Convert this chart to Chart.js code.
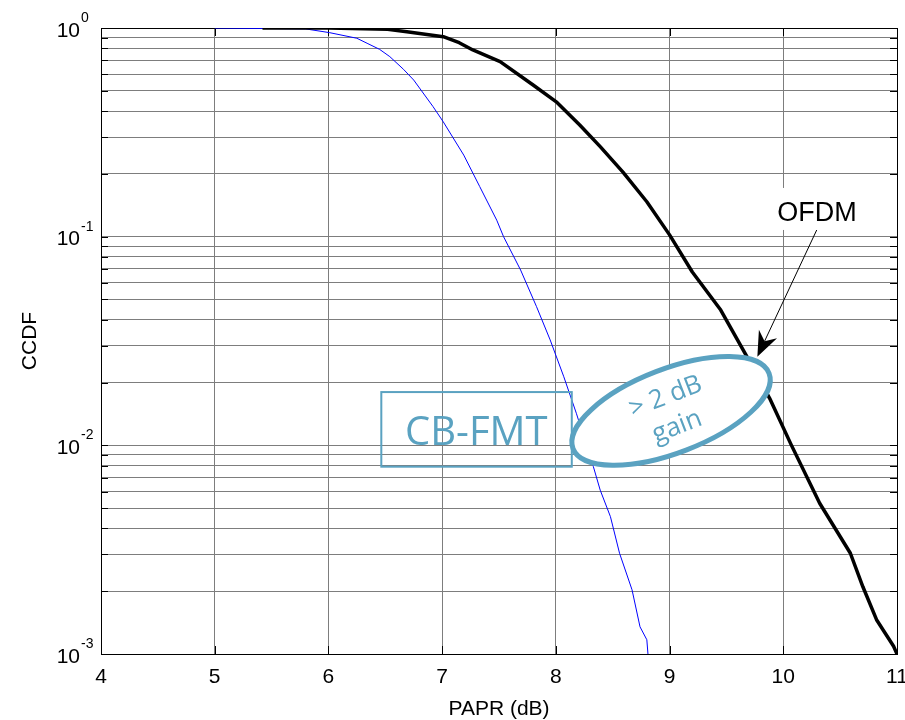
<!DOCTYPE html>
<html>
<head>
<meta charset="utf-8">
<script src="https://cdn.jsdelivr.net/npm/chart.js@4.4.1/dist/chart.umd.min.js"></script>
<style>
  body { margin: 0; background: #fff; }
  canvas { display: block; }
</style>
</head>
<body>
<canvas id="ccdfChart" width="905" height="720"></canvas>
<script>
// PAPR axis ticks (dB) and CCDF decades (exponents of 10)
const xTicks = [4, 5, 6, 7, 8, 9, 10, 11];
const yDecades = [0, -1, -2, -3];

// OFDM curve
const ofdmX = [5.42, 6.0, 6.52, 6.69, 7.01, 7.15, 7.27, 7.51, 7.8, 8.01, 8.21, 8.39, 8.59, 8.8, 9.0, 9.2, 9.45, 9.68, 9.88, 10.07, 10.32, 10.59, 10.7, 10.82, 10.97, 11.0];
const ofdmY = [1, 1, 0.985, 0.96, 0.909, 0.85, 0.785, 0.69, 0.533, 0.44, 0.343, 0.27, 0.204, 0.147, 0.102, 0.0677, 0.0445, 0.0266, 0.0168, 0.01005, 0.00528, 0.00304, 0.0021, 0.00146, 0.00109, 0.001];

// CB-FMT curve
const cbfmtX = [5.0, 5.8, 6.01, 6.25, 6.34, 6.45, 6.54, 6.66, 6.75, 6.92, 7.01, 7.19, 7.33, 7.48, 7.54, 7.69, 7.83, 7.95, 8.07, 8.18, 8.33, 8.39, 8.48, 8.56, 8.67, 8.74, 8.80, 8.81];
const cbfmtY = [1, 0.99, 0.95, 0.893, 0.845, 0.79, 0.729, 0.634, 0.563, 0.42, 0.355, 0.246, 0.174, 0.12, 0.1, 0.0692, 0.0462, 0.032, 0.0213, 0.01425, 0.0079, 0.0061, 0.00455, 0.00304, 0.00203, 0.00135, 0.00117, 0.001];

const teal = '#5aa2c1';
const gridColor = '#7d7d7d';
const axisFont = '21px "Liberation Sans", Arial, sans-serif';
const supFont = '14px "Liberation Sans", Arial, sans-serif';

function toPoints(xs, ys) {
  return xs.map((x, i) => ({ x: x, y: ys[i] }));
}

// log grid: 1..9 in every decade
const yGridValues = [];
for (let e = -3; e < 0; e++) {
  for (let m = 1; m < 10; m++) yGridValues.push(m * Math.pow(10, e));
}
yGridValues.push(1);

const decor = {
  id: 'decor',
  beforeDatasetsDraw(chart) {
    const ctx = chart.ctx;
    const a = chart.chartArea;
    const xs = chart.scales.x, ys = chart.scales.y;
    ctx.save();

    // inward tick marks on all four sides
    ctx.strokeStyle = '#000';
    ctx.lineWidth = 1;
    ctx.beginPath();
    yGridValues.forEach(v => {
      const py = Math.round(ys.getPixelForValue(v)) + 0.5;
      ctx.moveTo(a.left, py); ctx.lineTo(a.left + 7, py);
      ctx.moveTo(a.right, py); ctx.lineTo(a.right - 7, py);
    });
    xTicks.forEach(v => {
      const px = Math.round(xs.getPixelForValue(v)) + 0.5;
      ctx.moveTo(px, a.bottom); ctx.lineTo(px, a.bottom - 8);
      ctx.moveTo(px, a.top); ctx.lineTo(px, a.top + 8);
    });
    ctx.stroke();

    // axes box
    const l = Math.round(a.left) + 0.5, t = Math.round(a.top) + 0.5;
    const r = Math.round(a.right) + 0.5, b = Math.round(a.bottom) + 0.5;
    ctx.strokeRect(l, t, r - l, b - t);
    ctx.restore();
  },
  afterDatasetsDraw(chart) {
    const ctx = chart.ctx;
    const xs = chart.scales.x, ys = chart.scales.y;
    const p = (x, y) => [xs.getPixelForValue(x), ys.getPixelForValue(y)];
    ctx.save();

    // CB-FMT label box
    const [bx1, by1] = p(6.465, 0.0180);
    const [bx2, by2] = p(8.14, 0.0079);
    ctx.strokeStyle = teal;
    ctx.lineWidth = 2;
    ctx.strokeRect(bx1, by1, bx2 - bx1, by2 - by1);
    ctx.fillStyle = teal;
    ctx.font = '40px "Open Sans", sans-serif';
    ctx.textAlign = 'center';
    ctx.textBaseline = 'alphabetic';
    const [tx, ty] = p(7.30, 0.0100);
    ctx.fillText('CB-FMT', tx, ty);

    // gain ellipse
    const [ex, ey] = p(9.013, 0.01462);
    const rot = -21 * Math.PI / 180;
    ctx.beginPath();
    ctx.ellipse(ex, ey, 105, 42, rot, 0, Math.PI * 2);
    ctx.fillStyle = '#fff';
    ctx.fill();
    ctx.lineWidth = 5;
    ctx.strokeStyle = teal;
    ctx.stroke();
    ctx.save();
    ctx.translate(ex, ey);
    ctx.rotate(rot);
    ctx.fillStyle = teal;
    ctx.font = '26px "Open Sans", sans-serif';
    ctx.textBaseline = 'middle';
    ctx.fillText('> 2 dB', 0, -15);
    ctx.fillText('gain', 0, 17);
    ctx.restore();

    // OFDM label with arrow
    const [ox, oy] = p(10.297, 0.1328);
    ctx.font = '27px "Liberation Sans", Arial, sans-serif';
    const w = ctx.measureText('OFDM').width;
    ctx.fillStyle = '#fff';
    ctx.fillRect(ox - w / 2 - 4, oy - 23, w + 8, 42);
    ctx.fillStyle = '#000';
    ctx.textAlign = 'center';
    ctx.textBaseline = 'alphabetic';
    ctx.fillText('OFDM', ox, oy + 10);

    const [ax1, ay1] = p(10.294, 0.1076);
    const [ax2, ay2] = p(9.772, 0.02661);
    const dx = ax2 - ax1, dy = ay2 - ay1;
    const len = Math.hypot(dx, dy);
    const ux = dx / len, uy = dy / len;
    const headLen = 25, headHalf = 10, notch = 17;
    ctx.strokeStyle = '#000';
    ctx.lineWidth = 1;
    ctx.beginPath();
    ctx.moveTo(ax1, ay1);
    ctx.lineTo(ax2 - ux * notch, ay2 - uy * notch);
    ctx.stroke();
    ctx.beginPath();
    ctx.moveTo(ax2, ay2);
    ctx.lineTo(ax2 - ux * headLen - uy * headHalf, ay2 - uy * headLen + ux * headHalf);
    ctx.lineTo(ax2 - ux * notch, ay2 - uy * notch);
    ctx.lineTo(ax2 - ux * headLen + uy * headHalf, ay2 - uy * headLen - ux * headHalf);
    ctx.closePath();
    ctx.fillStyle = '#000';
    ctx.fill();

    ctx.restore();
  },
  afterDraw(chart) {
    const ctx = chart.ctx;
    const a = chart.chartArea;
    const xs = chart.scales.x, ys = chart.scales.y;
    ctx.save();

    // tick labels
    ctx.fillStyle = '#000';
    ctx.font = axisFont;
    ctx.textAlign = 'center';
    ctx.textBaseline = 'alphabetic';
    xTicks.forEach(v => ctx.fillText(String(v), xs.getPixelForValue(v), a.bottom + 29));

    yDecades.forEach(e => {
      const py = ys.getPixelForValue(Math.pow(10, e));
      ctx.font = axisFont;
      ctx.textAlign = 'right';
      ctx.fillText('10', a.left - 21, py + 8.5);
      ctx.font = supFont;
      ctx.textAlign = 'left';
      ctx.fillText(String(e), a.left - 20, py - 6);
    });

    // axis titles
    ctx.font = axisFont;
    ctx.textAlign = 'center';
    ctx.fillText('PAPR (dB)', (a.left + a.right) / 2, a.bottom + 61);
    ctx.translate(36, (a.top + a.bottom) / 2);
    ctx.rotate(-Math.PI / 2);
    ctx.fillText('CCDF', 0, 0);

    ctx.restore();
  }
};

const config = {
  type: 'line',
  data: {
    datasets: [
      {
        label: 'CB-FMT',
        data: toPoints(cbfmtX, cbfmtY),
        borderColor: '#0000ff',
        borderWidth: 1,
        pointRadius: 0,
        fill: false,
        order: 1,
      },
      {
        label: 'OFDM',
        data: toPoints(ofdmX, ofdmY),
        borderColor: '#000000',
        borderWidth: 3.5,
        borderJoinStyle: 'round',
        pointRadius: 0,
        fill: false,
        order: 0,
      },
    ],
  },
  options: {
    responsive: false,
    animation: false,
    devicePixelRatio: 1,
    layout: { padding: { left: 0, top: 28, right: 8, bottom: 0 } },
    plugins: {
      legend: { display: false },
      tooltip: { enabled: false },
    },
    scales: {
      x: {
        type: 'linear',
        min: 4,
        max: 11,
        afterBuildTicks: s => { s.ticks = xTicks.map(v => ({ value: v })); },
        afterFit: s => { s.height = 66; },
        ticks: { display: false },
        grid: { color: gridColor, drawTicks: false },
        border: { display: false },
      },
      y: {
        type: 'logarithmic',
        min: 0.001,
        max: 1,
        afterBuildTicks: s => { s.ticks = yGridValues.map(v => ({ value: v })); },
        afterFit: s => { s.width = 101; },
        ticks: { display: false },
        grid: { color: gridColor, drawTicks: false },
        border: { display: false },
      },
    },
  },
  plugins: [decor],
};

const ccdfChart = new Chart(document.getElementById('ccdfChart'), config);
</script>
</body>
</html>
